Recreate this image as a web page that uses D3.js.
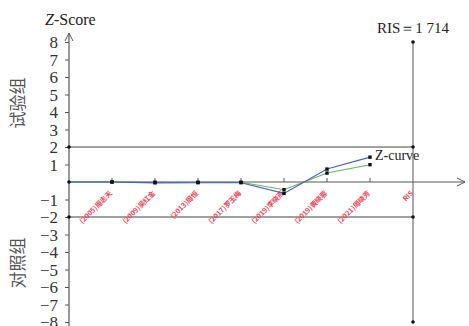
<!DOCTYPE html>
<html>
<head>
<meta charset="utf-8">
<script src="https://cdn.jsdelivr.net/npm/d3@7"></script>
<style>
  html, body { margin: 0; padding: 0; background: #fff; }
  svg { display: block; }
</style>
</head>
<body>
<svg id="chart" width="469" height="326"></svg>
<script>
// Trial sequential analysis: cumulative Z-curve vs. monitoring boundaries
const studies = ["", "(2005)周志天", "(2009)吴红金", "(2013)周恒", "(2017)罗玉梅",
                 "(2019)李晓燕", "(2019)黄晓蓉", "(2021)周晓芳", "RIS"];
const zCurve = [0, 0, -0.05, -0.04, -0.04, -0.65, 0.74, 1.42];
const zCurveAlt = [0, 0, -0.01, -0.01, -0.01, -0.44, 0.51, 0.99];
const yTicks = [8, 7, 6, 5, 4, 3, 2, 1, -1, -2, -3, -4, -5, -6, -7, -8];
const boundaries = [2, -2];
const risLabel = "RIS＝1 714";

const SERIF = '"Liberation Serif", "Times New Roman", Tinos, "DejaVu Serif", serif';
const CJK = '"Noto Sans CJK SC", sans-serif';

const svg = d3.select("#chart");

const x = d3.scaleLinear().domain([0, studies.length - 1]).range([69, 413]);
const y = d3.scaleLinear().domain([-8, 8]).range([322, 42]);

const axisColor = "#555";

// Arrow marker
svg.append("defs").append("marker")
  .attr("id", "arrow").attr("viewBox", "0 0 10 10")
  .attr("refX", 9).attr("refY", 5)
  .attr("markerWidth", 10).attr("markerHeight", 10)
  .attr("markerUnits", "userSpaceOnUse")
  .attr("orient", "auto")
  .append("path").attr("d", "M1,1 L9,5 L1,9")
  .attr("fill", "none").attr("stroke", axisColor).attr("stroke-width", 1);

// Boundary lines at ±2
svg.selectAll("line.bound").data(boundaries).join("line")
  .attr("class", "bound")
  .attr("x1", x(0)).attr("x2", x(8))
  .attr("y1", d => y(d)).attr("y2", d => y(d))
  .attr("stroke", "#444").attr("stroke-width", 1);

// RIS vertical line
svg.append("line")
  .attr("x1", x(8)).attr("x2", x(8))
  .attr("y1", y(8)).attr("y2", y(-8))
  .attr("stroke", "#555").attr("stroke-width", 1);

// X axis with arrow
svg.append("line")
  .attr("x1", x(0)).attr("x2", 465)
  .attr("y1", y(0)).attr("y2", y(0))
  .attr("stroke", axisColor).attr("stroke-width", 1)
  .attr("marker-end", "url(#arrow)");

// Y axis with arrow
svg.append("line")
  .attr("x1", x(0)).attr("x2", x(0))
  .attr("y1", 326).attr("y2", 33)
  .attr("stroke", axisColor).attr("stroke-width", 1.2)
  .attr("marker-end", "url(#arrow)");

// Y ticks and labels
const yAxis = d3.axisLeft(y).tickValues(yTicks).tickSize(4).tickPadding(7)
  .tickFormat(d => d < 0 ? "−" + Math.abs(d) : String(d));
const gy = svg.append("g").attr("transform", `translate(${x(0)},0)`).call(yAxis);
gy.attr("font-family", null).attr("font-size", null);
gy.select(".domain").remove();
gy.selectAll(".tick line").attr("stroke", axisColor);
gy.selectAll(".tick text")
  .style("font-family", SERIF)
  .style("font-size", "17px").attr("fill", "#333")
  .attr("dy", "0.34em");

// X ticks (upward) and rotated study labels
const gx = svg.append("g");
gx.selectAll("line").data(d3.range(1, 8)).join("line")
  .attr("x1", d => x(d)).attr("x2", d => x(d))
  .attr("y1", y(0)).attr("y2", y(0) - 4)
  .attr("stroke", axisColor);
gx.selectAll("text").data(studies.slice(1)).join("text")
  .attr("transform", (d, i) => `translate(${x(i + 1) - 1},${y(0) + 10}) rotate(-45)`)
  .attr("text-anchor", "end")
  .attr("dy", "0.35em")
  .style("font-family", CJK)
  .style("font-size", "7px")
  .style("font-weight", "600")
  .attr("fill", "#f0465a")
  .text(d => d);

// Curves
const line = d3.line().x((d, i) => x(i)).y(d => y(d));
svg.append("path").datum(zCurveAlt).attr("d", line)
  .attr("fill", "none").attr("stroke", "#5cb85c").attr("stroke-width", 1.1);
svg.append("path").datum(zCurve).attr("d", line)
  .attr("fill", "none").attr("stroke", "#4a5cc0").attr("stroke-width", 1.1);

// Markers
const markerPts = [];
[zCurveAlt, zCurve].forEach(s => s.forEach((v, i) => { if (i > 0) markerPts.push([i, v]); }));
svg.selectAll("rect.pt").data(markerPts).join("rect")
  .attr("class", "pt")
  .attr("x", d => x(d[0]) - 1.7).attr("y", d => y(d[1]) - 1.7)
  .attr("width", 3.4).attr("height", 3.4).attr("fill", "#111");

// Boundary end dots
const dots = [[0, 2], [0, -2], [0, 0], [8, 8], [8, 2], [8, -2], [8, -8]];
svg.selectAll("circle.dot").data(dots).join("circle")
  .attr("class", "dot")
  .attr("cx", d => x(d[0])).attr("cy", d => y(d[1]))
  .attr("r", 1.8).attr("fill", "#111");

// Titles
const zt = svg.append("text").attr("x", 45).attr("y", 25)
  .style("font-family", SERIF)
  .style("font-size", "16px").attr("fill", "#222");
zt.append("tspan").style("font-style", "italic").text("Z");
zt.append("tspan").text("-Score");

svg.append("text").attr("x", 377).attr("y", 33)
  .style("font-family", SERIF)
  .style("font-size", "15px").attr("fill", "#222")
  .text(risLabel);

svg.append("text")
  .attr("x", x(7) + 5).attr("y", y(zCurve[7]) + 3)
  .style("font-family", SERIF)
  .style("font-size", "14px").attr("fill", "#222")
  .text("Z-curve");

// Group labels
svg.append("text")
  .attr("transform", "translate(24,103) rotate(-90)")
  .attr("text-anchor", "middle")
  .style("font-family", CJK)
  .style("font-size", "17px").attr("fill", "#555")
  .text("试验组");
svg.append("text")
  .attr("transform", "translate(24,263) rotate(-90)")
  .attr("text-anchor", "middle")
  .style("font-family", CJK)
  .style("font-size", "17px").attr("fill", "#555")
  .text("对照组");
</script>
</body>
</html>
